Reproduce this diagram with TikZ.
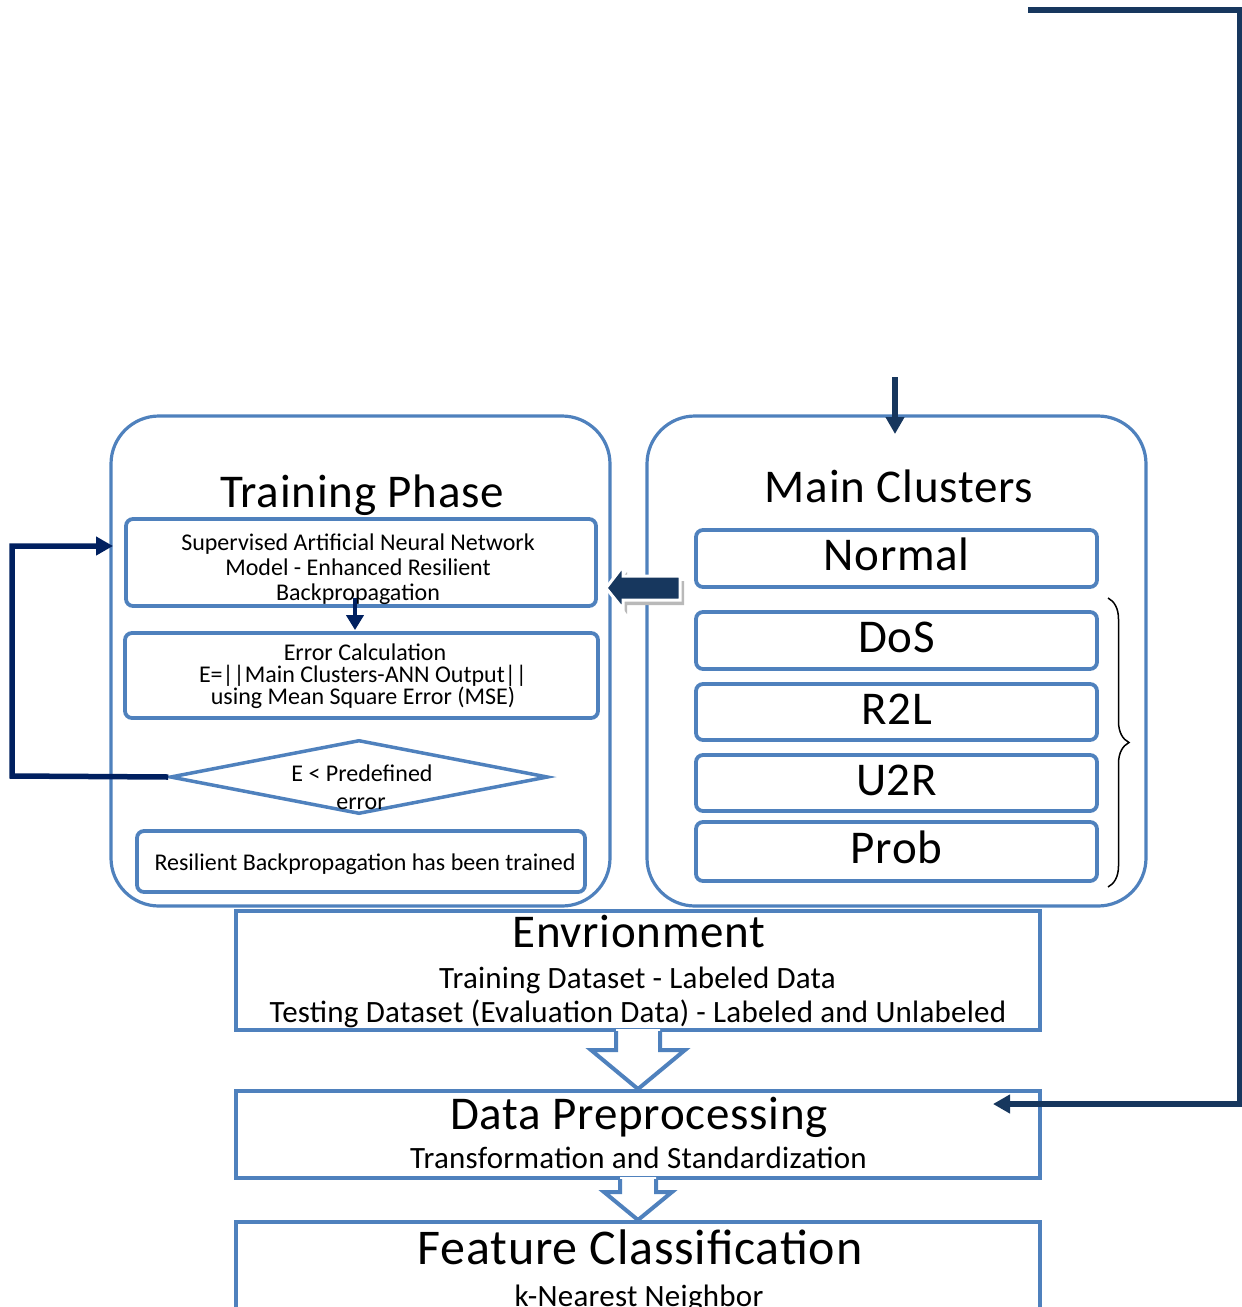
\documentclass[tikz,border=0pt]{standalone}
\usepackage{fontspec}
\setmainfont{Carlito}
\newfontfamily\titlefam[LetterSpace=1.6]{Carlito}
\newfontfamily\subfam[LetterSpace=0.8]{Carlito}
\usetikzlibrary{arrows.meta,shapes.geometric,decorations.pathreplacing,calc}
\definecolor{boxblue}{HTML}{4F81BD}
\definecolor{navy}{HTML}{17375E}
\definecolor{deepnavy}{HTML}{002060}
\newcommand\titlefont{\titlefam\fontsize{47}{50}\selectfont}
\newcommand\bigtitlefont{\titlefam\fontsize{50}{54}\selectfont}
\newcommand\subfont{\subfam\fontsize{31}{35}\selectfont}
\newcommand\notefont{\fontsize{24}{25}\selectfont}
\begin{document}
\begin{tikzpicture}[x=1pt,y=-1pt,
  container/.style={draw=boxblue,line width=3.2pt,rounded corners=48pt,inner sep=0pt},
  stepbox/.style={draw=boxblue,line width=3.8pt,rounded corners=7pt,inner sep=0pt},
  classbox/.style={stepbox,minimum width=401pt,font=\titlefont,text height=31pt,text depth=7pt},
  stagebox/.style={draw=boxblue,line width=4pt,inner sep=0pt,minimum width=804pt},
  txt/.style={inner sep=0pt,anchor=base},
  flow/.style={draw=navy,line width=5.5pt},
  loopback/.style={draw=deepnavy,line width=5.5pt},
  hollow/.style={draw=boxblue,line width=4pt,line join=miter},
  tip/.style={-{Triangle[length=17pt,width=18pt]}}
]
\useasboundingbox (0,0) rectangle (1242,1307);

% the two phase containers
\node[container,minimum width=499pt,minimum height=490pt] (train) at (360.5,661) {};
\node[container,minimum width=499pt,minimum height=490pt] (clusters) at (896.5,661) {};
\node[txt,font=\titlefont] (traintitle) at (362,507) {Training Phase};
\node[txt,font=\titlefont] (clustertitle) at (899,502) {Main Clusters};

% training steps
\node[stepbox,minimum width=470pt,minimum height=87pt] (ann) at (361,562.5) {};
\node[txt,font=\notefont] (ann1) at (358,550) {Supervised Artificial Neural Network};
\node[txt,font=\notefont] (ann2) at (358,575) {Model - Enhanced Resilient};
\node[txt,font=\notefont] (ann3) at (358,600) {Backpropagation};

\node[stepbox,minimum width=473pt,minimum height=85pt] (err) at (361.5,675.5) {};
\node[txt,font=\notefont] (err1) at (365,660) {Error Calculation};
\node[txt,font=\notefont] (err2) at (363,682.5) {E=||Main Clusters-ANN Output||};
\node[txt,font=\notefont] (err3) at (363,704.5) {using Mean Square Error (MSE)};

\node[diamond,draw=boxblue,line width=3.5pt,inner sep=0pt,minimum width=378pt,minimum height=74pt] (dia) at (359,777) {};
\node[txt,font=\notefont] (dia1) at (362,781) {E < Predefined};
\node[txt,font=\notefont] (dia2) at (361,809) {error};

\node[stepbox,minimum width=448pt,minimum height=61pt] (done) at (361,861.5) {};
\node[txt,font=\notefont] (done1) at (365,870) {Resilient Backpropagation has been trained};

% cluster labels
\node[classbox,minimum height=57pt] (normal) at (896.5,558.5) {Normal};
\node[classbox,minimum height=57pt] (dos) at (896.5,640.5) {DoS};
\node[classbox,minimum height=56pt] (r2l) at (896.5,712) {R2L};
\node[classbox,minimum height=56pt] (u2r) at (896.5,783) {U2R};
\node[classbox,minimum height=59pt] (prob) at (896.5,851.5) {Prob};
\draw[line width=1.5pt,decorate,decoration={brace,amplitude=21pt,raise=0pt}]
  (1108,598) -- (1108,887);

% processing stages
\node[stagebox,minimum height=119pt] (env) at (638,970.5) {};
\node[txt,font=\titlefont] (env1) at (639,947) {Envrionment};
\node[txt,font=\subfont] (env2) at (637.5,988) {Training Dataset - Labeled Data};
\node[txt,font=\subfont] (env3) at (638,1022.5) {Testing Dataset (Evaluation Data) - Labeled and Unlabeled};

\node[stagebox,minimum height=87pt] (prep) at (638,1134.5) {};
\node[txt,font=\titlefont] (prep1) at (639,1129) {Data Preprocessing};
\node[txt,font=\subfont] (prep2) at (638.5,1168) {Transformation and Standardization};

\node[stagebox,minimum height=108pt] (feat) at (638,1276) {};
\node[txt,font=\bigtitlefont] (feat1) at (640,1264) {Feature Classification};
\node[txt,font=\subfont] (feat2) at (639,1306) {k-Nearest Neighbor};

% hollow block arrows between stages
\fill[white] ($(env.south)+(-22,-3)$) -- ($(env.south)+(-22,18)$) -- ($(env.south)+(-47,18)$)
  -- (prep.north) -- ($(env.south)+(47,18)$) -- ($(env.south)+(22,18)$) -- ($(env.south)+(22,-3)$) -- cycle;
\draw[hollow] ($(env.south)+(-22,-1)$) -- ($(env.south)+(-22,18)$) -- ($(env.south)+(-47,18)$)
  -- (prep.north) -- ($(env.south)+(47,18)$) -- ($(env.south)+(22,18)$) -- ($(env.south)+(22,-1)$);
\fill[white] ($(prep.south)+(-18,-3)$) -- ($(prep.south)+(-18,12)$) -- ($(prep.south)+(-34,12)$)
  -- (feat.north) -- ($(prep.south)+(34,12)$) -- ($(prep.south)+(18,12)$) -- ($(prep.south)+(18,-3)$) -- cycle;
\draw[hollow] ($(prep.south)+(-18,-1)$) -- ($(prep.south)+(-18,12)$) -- ($(prep.south)+(-34,12)$)
  -- (feat.north) -- ($(prep.south)+(34,12)$) -- ($(prep.south)+(18,12)$) -- ($(prep.south)+(18,-1)$);

% block arrow from the clusters to the training phase
\fill[gray!55] (611,593) -- (627,572) -- (627,581) -- (684,581) -- (684,605) -- (627,605) -- (627,614) -- cycle;
\filldraw[fill=navy,draw=white,line width=3pt,line join=miter]
  (606,588) -- (623,566) -- (623,576) -- (680,576) -- (680,600) -- (623,600) -- (623,609) -- cycle;

% connectors
\draw[draw=deepnavy,line width=4pt,-{Triangle[length=15pt,width=17pt]}]
  ($(ann.south)+(-6,-10)$) -- ($(err.north)+(-6.5,-1)$);
\coordinate (fbcorner) at (12,776);
\coordinate (fbin) at (113,546);
\draw[loopback,tip] (dia.west) -- (fbcorner) |- (fbin);
\coordinate (mcin) at (895,377);
\coordinate (mctip) at (895,434);
\draw[flow,tip] (mcin) -- (mctip);
\coordinate (feedstart) at (1028,10);
\coordinate (rail) at (1240,1104);
\coordinate (prepin) at (993,1104);
\draw[flow,tip,line join=miter] (feedstart) -| (rail) -- (prepin);
\end{tikzpicture}
\end{document}
